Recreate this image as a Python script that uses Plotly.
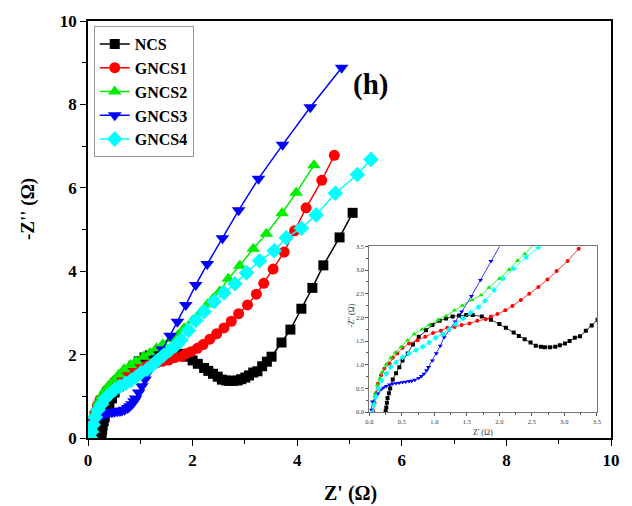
import plotly.graph_objects as go

# ---------------- data (Z' , -Z'') ----------------
ncs_x = [0.25, 0.26, 0.27, 0.28, 0.30, 0.32, 0.36, 0.41, 0.46, 0.51, 0.59, 0.67, 0.76, 0.87, 0.97, 1.08,
         1.18, 1.28, 1.38, 1.49, 1.59, 1.73, 1.87, 2.00, 2.10, 2.22, 2.30, 2.39, 2.48, 2.56, 2.64, 2.70,
         2.78, 2.86, 2.93, 3.01, 3.08, 3.16, 3.24, 3.33, 3.42, 3.51, 3.70, 3.87, 4.08, 4.29, 4.50, 4.81, 5.06]
ncs_y = [0.02, 0.10, 0.20, 0.30, 0.40, 0.50, 0.69, 0.82, 0.95, 1.09, 1.24, 1.43, 1.59, 1.73, 1.84, 1.93,
         1.98, 2.02, 2.04, 2.05, 2.05, 2.02, 1.95, 1.86, 1.78, 1.68, 1.61, 1.54, 1.47, 1.40, 1.38, 1.37,
         1.37, 1.38, 1.41, 1.45, 1.50, 1.57, 1.60, 1.72, 1.83, 1.95, 2.29, 2.60, 3.10, 3.60, 4.14, 4.81, 5.40]

g1_x = [0.06, 0.08, 0.10, 0.13, 0.18, 0.23, 0.31, 0.36, 0.43, 0.51, 0.61, 0.74, 0.86, 0.98, 1.10, 1.20,
        1.31, 1.42, 1.54, 1.66, 1.79, 1.87, 1.97, 2.09, 2.20, 2.33, 2.46, 2.60, 2.74, 2.88, 3.05, 3.22,
        3.36, 3.54, 3.75, 3.95, 4.17, 4.47, 4.71]
g1_y = [0.02, 0.20, 0.40, 0.60, 0.78, 0.92, 1.02, 1.15, 1.24, 1.36, 1.45, 1.52, 1.59, 1.67, 1.72, 1.78,
        1.80, 1.84, 1.87, 1.93, 1.96, 2.02, 2.07, 2.15, 2.24, 2.37, 2.50, 2.64, 2.80, 2.98, 3.19, 3.45,
        3.71, 4.05, 4.46, 4.97, 5.52, 6.18, 6.78]

g2_x = [0.05, 0.07, 0.09, 0.12, 0.16, 0.20, 0.26, 0.33, 0.40, 0.49, 0.59, 0.69, 0.81, 0.92, 1.06, 1.18,
        1.31, 1.43, 1.58, 1.72, 1.84, 2.00, 2.15, 2.28, 2.39, 2.52, 2.68, 2.90, 3.16, 3.41, 3.71, 3.98, 4.32]
g2_y = [0.00, 0.20, 0.40, 0.57, 0.71, 0.85, 1.01, 1.15, 1.26, 1.38, 1.52, 1.65, 1.75, 1.84, 1.95, 2.03,
        2.15, 2.25, 2.37, 2.47, 2.63, 2.82, 3.01, 3.20, 3.34, 3.52, 3.82, 4.13, 4.54, 4.90, 5.39, 5.88, 6.54]

g3_x = [0.03, 0.05, 0.09, 0.13, 0.18, 0.22, 0.26, 0.31, 0.36, 0.41, 0.46, 0.51, 0.56, 0.61, 0.65, 0.70,
        0.76, 0.80, 0.84, 0.88, 0.91, 0.97, 1.03, 1.09, 1.15, 1.23, 1.32, 1.42, 1.57, 1.71, 1.87, 2.06,
        2.28, 2.57, 2.88, 3.26, 3.72, 4.25, 4.85]
g3_y = [0.05, 0.22, 0.32, 0.39, 0.48, 0.52, 0.55, 0.58, 0.60, 0.61, 0.62, 0.63, 0.64, 0.65, 0.66, 0.68,
        0.72, 0.76, 0.81, 0.88, 0.95, 1.09, 1.24, 1.40, 1.58, 1.73, 1.91, 2.12, 2.45, 2.79, 3.19, 3.67,
        4.17, 4.79, 5.46, 6.22, 7.03, 7.93, 8.88]

g4_x = [0.05, 0.07, 0.10, 0.14, 0.19, 0.26, 0.33, 0.41, 0.51, 0.61, 0.72, 0.82, 0.92, 1.02, 1.13, 1.23,
        1.33, 1.44, 1.56, 1.68, 1.78, 1.92, 2.06, 2.22, 2.41, 2.60, 2.81, 3.03, 3.28, 3.56, 3.79, 4.08,
        4.36, 4.73, 5.15, 5.41]
g4_y = [0.00, 0.15, 0.32, 0.50, 0.67, 0.81, 0.95, 1.05, 1.16, 1.24, 1.31, 1.38, 1.47, 1.57, 1.65, 1.75,
        1.86, 1.98, 2.10, 2.22, 2.35, 2.58, 2.82, 3.03, 3.27, 3.48, 3.70, 3.96, 4.25, 4.49, 4.80, 5.03,
        5.35, 5.87, 6.32, 6.68]

names = ["NCS", "GNCS1", "GNCS2", "GNCS3", "GNCS4"]
xs = [ncs_x, g1_x, g2_x, g3_x, g4_x]
ys = [ncs_y, g1_y, g2_y, g3_y, g4_y]
colors = ["#000000", "#ff0000", "#00ee00", "#0000ff", "#00ffff"]
symbols = ["square", "circle", "triangle-up", "triangle-down", "diamond"]
main_sizes = [10, 11, 12, 12, 12]
inset_sizes = [4, 4, 4.5, 4.5, 4.5]

main_ticks = [0, 2, 4, 6, 8, 10]
inset_ticks = [0.0, 0.5, 1.0, 1.5, 2.0, 2.5, 3.0, 3.5]

SERIF = "Liberation Serif, Times New Roman, serif"

fig = go.Figure()
for n, x, y, c, s, ms in zip(names, xs, ys, colors, symbols, main_sizes):
    fig.add_trace(go.Scatter(x=x, y=y, name=n, mode="lines+markers",
                             line=dict(color=c, width=1.5),
                             marker=dict(symbol=s, size=ms, color=c),
                             xaxis="x", yaxis="y"))
for n, x, y, c, s, ms in zip(names, xs, ys, colors, symbols, inset_sizes):
    fig.add_trace(go.Scatter(x=x, y=y, name=n, mode="lines+markers", showlegend=False,
                             line=dict(color=c, width=0.8),
                             marker=dict(symbol=s, size=ms, color=c),
                             xaxis="x2", yaxis="y2"))

axis_main = dict(showgrid=False, zeroline=False, showline=True, mirror=True,
                 linecolor="black", linewidth=1.5, ticks="outside", ticklen=6,
                 tickwidth=1.3, tickcolor="black",
                 tickfont=dict(family=SERIF, size=17, color="black", weight="bold"),
                 minor=dict(ticks="outside", ticklen=4, dtick=1, tickcolor="black", tickwidth=1.2))

inset_axis = dict(range=[0, 3.5], tickvals=inset_ticks, tickformat=".1f",
                  showgrid=False, zeroline=False, showline=True, mirror=True,
                  linecolor="#777777", linewidth=1, ticks="outside", ticklen=3, tickcolor="#555555",
                  tickfont=dict(family=SERIF, size=6.5, color="#333333"),
                  minor=dict(ticks="outside", ticklen=2, dtick=0.25, tickcolor="#555555"))

fig.update_layout(
    width=632, height=506,
    margin=dict(l=88, r=20, t=18, b=68),
    paper_bgcolor="white", plot_bgcolor="white",
    xaxis=dict(range=[0, 10], tickvals=main_ticks, domain=[0, 1], **axis_main),
    yaxis=dict(range=[0, 10], tickvals=main_ticks, domain=[0, 1], **axis_main),
    xaxis2=dict(domain=[0.538, 0.973], anchor="y2", **inset_axis),
    yaxis2=dict(domain=[0.062, 0.4595], anchor="x2", **inset_axis),
    legend=dict(x=0.011, y=0.988, xanchor="left", yanchor="top",
                bgcolor="white", bordercolor="#999999", borderwidth=1,
                font=dict(family=SERIF, size=16, color="black", weight="bold"),
                tracegroupgap=0, itemwidth=30),
    showlegend=True,
)

fig.add_annotation(text="Z' (\u03a9)", xref="paper", yref="paper", x=0.502, y=-0.133,
                   xanchor="center", yanchor="middle", showarrow=False,
                   font=dict(family=SERIF, size=20, color="black", weight="bold"))
fig.add_annotation(text="-Z'' (\u03a9)", xref="paper", yref="paper", x=-0.116, y=0.55, textangle=-90,
                   xanchor="center", yanchor="middle", showarrow=False,
                   font=dict(family=SERIF, size=19, color="black", weight="bold"))
fig.add_annotation(text="(h)", xref="paper", yref="paper", x=0.540, y=0.848,
                   xanchor="center", yanchor="middle", showarrow=False,
                   font=dict(family=SERIF, size=29, color="black", weight="bold"))
fig.add_annotation(text="Z' (\u03a9)", xref="paper", yref="paper", x=0.756, y=0.0143,
                   xanchor="center", yanchor="middle", showarrow=False,
                   font=dict(family=SERIF, size=8, color="#333333"))
fig.add_annotation(text="-Z'' (\u03a9)", xref="paper", yref="paper", x=0.504, y=0.293, textangle=-90,
                   xanchor="center", yanchor="middle", showarrow=False,
                   font=dict(family=SERIF, size=8, color="#333333"))

fig.write_html("out.html")
